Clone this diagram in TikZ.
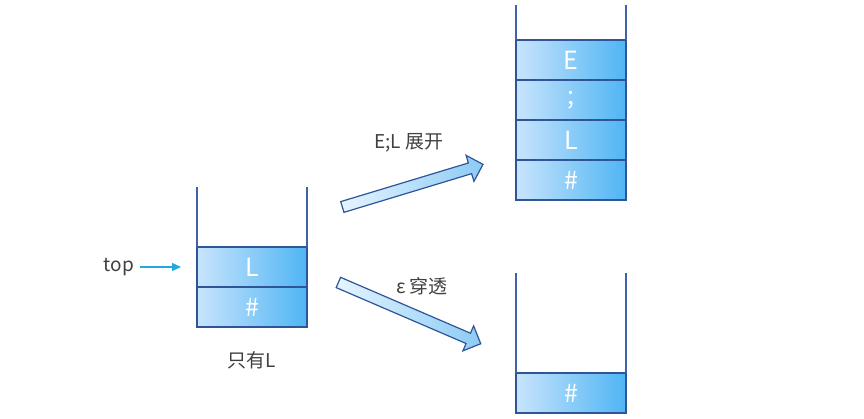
\documentclass[tikz,border=0pt]{standalone}
\usepackage{fontspec}
\setmainfont{Noto Sans CJK SC}
\usetikzlibrary{arrows.meta,positioning,shapes.arrows}

\definecolor{cellline}{HTML}{2F5597}
\definecolor{walline}{HTML}{3F63A6}
\definecolor{celllight}{HTML}{C8E4FC}
\definecolor{cellmid}{HTML}{A6D5F9}
\definecolor{celldark}{HTML}{4FB5F4}
\definecolor{arrlight}{HTML}{E6F4FF}
\definecolor{arrdark}{HTML}{8CCBF5}
\definecolor{pointer}{HTML}{22A8E2}
\definecolor{labeltext}{HTML}{404040}

\tikzset{
  cell/.style={draw=cellline, line width=2pt, minimum width=110pt, minimum height=40pt,
    inner sep=0pt, outer sep=0pt, left color=celllight, middle color=cellmid, right color=celldark,
    text=white, font=\fontsize{25}{28}\selectfont},
  wall/.style={draw=walline, line width=2pt},
  lbl/.style={text=labeltext, font=\fontsize{19}{22}\selectfont},
  bigarrow/.style={single arrow, draw=cellline, line width=1.2pt, inner sep=5pt,
    single arrow head extend=8pt, left color=arrlight, right color=arrdark, sloped}
}

\begin{document}
\begin{tikzpicture}[x=1pt, y=-1pt]
  \useasboundingbox (0,0) rectangle (864,419);

  % left stack
  \node [cell] (leftL) at (252,267) {L};
  \node [cell, below=0pt of leftL] (leftH) {\#};
  \draw [wall] (leftL.north west) -- ++(0,-60);
  \draw [wall] (leftL.north east) -- ++(0,-60);
  \node [lbl] (onlyL) at (252,360) {只有L};

  \node [lbl] (top) at (119,267) {top};
  \draw [pointer, line width=1.2pt, -{Triangle[length=9pt, width=8pt]}, shorten <=2pt, shorten >=16pt] (top) -- (leftL);

  % upper right stack
  \node [cell] (upE) at (571,60) {E};
  \node [cell, below=0pt of upE] (upS) {;};
  \node [cell, below=0pt of upS] (upL) {L};
  \node [cell, below=0pt of upL] (upH) {\#};
  \draw [wall] (upE.north west) -- ++(0,-35);
  \draw [wall] (upE.north east) -- ++(0,-35);

  % lower right stack
  \node [cell] (lowH) at (571,393) {\#};
  \draw [wall] (lowH.north west) -- ++(0,-100);
  \draw [wall] (lowH.north east) -- ++(0,-100);

  % transitions
  \coordinate (expTail) at (339,208);
  \coordinate (expTip) at (481,165);
  \path (expTail) -- node [bigarrow, minimum height=147pt] (expand) {} (expTip);
  \node [lbl] (expandLbl) at (409,143) {E;L 展开};

  \coordinate (epsTail) at (335,281);
  \coordinate (epsTip) at (479,343);
  \path (epsTail) -- node [bigarrow, minimum height=155pt] (through) {} (epsTip);
  \node [lbl] (throughLbl) at (422,286) {ε 穿透};
\end{tikzpicture}
\end{document}
